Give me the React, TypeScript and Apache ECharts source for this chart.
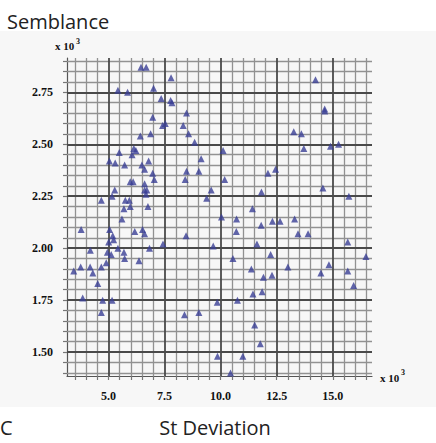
import React, { useEffect, useRef } from "react";
import * as echarts from "echarts";

// St Deviation (x 10^3) and Semblance (x 10^3) of each point
const stDeviation = [
  6.45, 6.68, 7.79, 5.42, 5.85, 7.01, 7.35, 7.77, 7.83, 8.48,
  6.97, 7.41, 7.53, 8.33, 6.42, 6.88, 8.57, 8.84, 6.13, 6.22,
  5.48, 6.05, 5.04, 5.30, 5.72, 6.49, 6.61, 6.79, 9.13, 6.97,
  8.48, 9.03, 7.04, 5.97, 6.10, 8.42, 6.61, 6.61, 6.71, 5.28,
  5.16, 6.67, 9.58, 9.38, 4.68, 5.75, 5.93, 5.69, 5.97, 6.76,
  5.60,
  3.78, 5.05, 6.17, 6.52, 6.61, 5.19, 5.23, 5.01, 8.46, 7.43,
  6.83, 5.42, 5.69, 4.19, 4.95, 5.12, 5.72, 6.36, 4.90, 9.67,
  3.76, 4.18, 4.68, 3.45, 4.30, 4.52, 3.85, 4.74, 5.16, 4.68,
  8.39, 9.03, 9.85, 9.86,
  14.23, 14.64, 14.64, 13.26, 13.60, 13.71, 14.90, 15.26, 10.11, 10.18,
  12.11, 12.45, 11.82, 14.56, 15.72, 11.42, 10.04, 10.71, 12.31, 12.65,
  13.30,
  11.81, 10.70, 13.45, 13.90, 11.62, 15.67, 12.23, 16.48, 10.55, 11.37,
  13.00, 14.47, 14.83, 15.67, 11.91, 12.29, 15.93, 11.44, 11.85, 10.75,
  11.52, 11.77, 10.99, 10.44,
];
const semblance = [
  2.87, 2.87, 2.82, 2.76, 2.75, 2.77, 2.72, 2.71, 2.70, 2.65,
  2.63, 2.59, 2.60, 2.59, 2.54, 2.55, 2.55, 2.51, 2.48, 2.47,
  2.46, 2.45, 2.42, 2.41, 2.40, 2.40, 2.38, 2.42, 2.43, 2.36,
  2.37, 2.37, 2.33, 2.32, 2.32, 2.33, 2.31, 2.28, 2.28, 2.28,
  2.25, 2.26, 2.28, 2.24, 2.23, 2.23, 2.23, 2.19, 2.20, 2.20,
  2.14,
  2.09, 2.09, 2.08, 2.09, 2.07, 2.06, 2.04, 2.03, 2.06, 2.02,
  2.00, 2.00, 1.98, 1.99, 1.98, 1.97, 1.95, 1.94, 1.93, 2.01,
  1.91, 1.91, 1.91, 1.89, 1.88, 1.83, 1.76, 1.75, 1.75, 1.69,
  1.68, 1.69, 1.74, 1.48,
  2.81, 2.67, 2.66, 2.56, 2.55, 2.48, 2.49, 2.50, 2.47, 2.33,
  2.36, 2.38, 2.27, 2.29, 2.25, 2.19, 2.15, 2.14, 2.13, 2.13,
  2.14,
  2.11, 2.08, 2.07, 2.07, 2.02, 2.03, 1.97, 1.96, 1.95, 1.90,
  1.91, 1.88, 1.92, 1.89, 1.86, 1.87, 1.82, 1.78, 1.79, 1.75,
  1.63, 1.54, 1.48, 1.40,
];

const xTickLabels = [5.0, 7.5, 10.0, 12.5, 15.0];
const yTickLabels = [1.5, 1.75, 2.0, 2.25, 2.5, 2.75];
const xGridMinor = [3.5, 4.0, 4.5, 5.5, 6.0, 6.5, 7.0, 8.0, 8.5, 9.0, 9.5, 10.5, 11.0, 11.5, 12.0, 13.0, 13.5, 14.0, 14.5, 15.5, 16.0, 16.5];
const yGridMinor = [1.4, 1.45, 1.55, 1.6, 1.65, 1.7, 1.8, 1.85, 1.9, 1.95, 2.05, 2.1, 2.15, 2.2, 2.3, 2.35, 2.4, 2.45, 2.55, 2.6, 2.65, 2.7, 2.8, 2.85, 2.9];

export default function App() {
  const ref = useRef<HTMLDivElement>(null);
  useEffect(() => {
    if (!ref.current) return;
    const chart = echarts.init(ref.current, null, { renderer: "svg" });
    const minorStyle = { color: "#929292", width: 1.3, type: "solid" };
    const majorStyle = { color: "#4a4a4a", width: 1.8, type: "solid" };
    const gridLines = [
      ...xGridMinor.map((v) => ({ xAxis: v, lineStyle: minorStyle })),
      ...yGridMinor.map((v) => ({ yAxis: v, lineStyle: minorStyle })),
      ...xTickLabels.map((v) => ({ xAxis: v, lineStyle: majorStyle })),
      ...yTickLabels.map((v) => ({ yAxis: v, lineStyle: majorStyle })),
    ];
    const allX = [...xGridMinor, ...xTickLabels].sort((a, b) => a - b);
    const allY = [...yGridMinor, ...yTickLabels].sort((a, b) => a - b);
    const labelFont = {
      fontFamily: "Liberation Serif",
      fontWeight: "bold",
      fontSize: 12,
      color: "#111",
    };
    chart.setOption({
      animation: false,
      backgroundColor: "#ffffff",
      grid: { left: 67, right: 64, top: 58, bottom: 67 },
      xAxis: {
        type: "value",
        min: 3.15,
        max: 16.75,
        splitLine: { show: false },
        axisLine: { show: true, lineStyle: { color: "#555", width: 1.2 } },
        axisTick: {
          show: true,
          length: 4,
          customValues: allX,
          lineStyle: { color: "#777", width: 1.2 },
        },
        axisLabel: {
          ...labelFont,
          margin: 14,
          customValues: xTickLabels,
          formatter: (v: number) => v.toFixed(1),
        },
      },
      yAxis: {
        type: "value",
        min: 1.385,
        max: 2.915,
        splitLine: { show: false },
        axisLine: { show: true, lineStyle: { color: "#555", width: 1.2 } },
        axisTick: {
          show: true,
          length: 4,
          customValues: allY,
          lineStyle: { color: "#777", width: 1.2 },
        },
        axisLabel: {
          ...labelFont,
          margin: 14,
          customValues: yTickLabels,
          formatter: (v: number) => v.toFixed(2),
        },
      },
      graphic: [
        {
          type: "rect",
          z: -10,
          silent: true,
          shape: { x: 0, y: 31, width: 436, height: 376 },
          style: { fill: "#f7f7f7" },
        },
        {
          type: "text",
          x: 7,
          y: 21,
          style: {
            text: "Semblance",
            font: "20px 'Open Sans'",
            fill: "#222",
            verticalAlign: "middle",
          },
        },
        {
          type: "text",
          x: 215,
          y: 427,
          style: {
            text: "St Deviation",
            font: "20px 'Open Sans'",
            fill: "#222",
            align: "center",
            verticalAlign: "middle",
          },
        },
        {
          type: "text",
          x: 0,
          y: 427,
          style: {
            text: "C",
            font: "20px 'Open Sans'",
            fill: "#222",
            verticalAlign: "middle",
          },
        },
        {
          type: "text",
          x: 55,
          y: 46,
          style: {
            text: "x 10",
            font: "bold 11px 'Liberation Serif'",
            fill: "#111",
            verticalAlign: "middle",
          },
        },
        {
          type: "text",
          x: 76,
          y: 41,
          style: {
            text: "3",
            font: "bold 8px 'Liberation Serif'",
            fill: "#111",
            verticalAlign: "middle",
          },
        },
        {
          type: "text",
          x: 380,
          y: 378,
          style: {
            text: "x 10",
            font: "bold 11px 'Liberation Serif'",
            fill: "#111",
            verticalAlign: "middle",
          },
        },
        {
          type: "text",
          x: 401,
          y: 372,
          style: {
            text: "3",
            font: "bold 8px 'Liberation Serif'",
            fill: "#111",
            verticalAlign: "middle",
          },
        },
      ],
      series: [
        {
          type: "scatter",
          data: [],
          z: 1,
          silent: true,
          markLine: {
            silent: true,
            symbol: "none",
            label: { show: false },
            animation: false,
            data: gridLines,
          },
        },
        {
          type: "scatter",
          z: 5,
          symbol: "triangle",
          symbolSize: 7,
          itemStyle: { color: "#3a3f95" },
          data: stDeviation.map((x, i) => [x, semblance[i]]),
        },
      ],
    });
    return () => chart.dispose();
  }, []);
  return (
    <div
      ref={ref}
      style={{ position: "fixed", left: 0, top: 0, width: 436, height: 443 }}
    />
  );
}
